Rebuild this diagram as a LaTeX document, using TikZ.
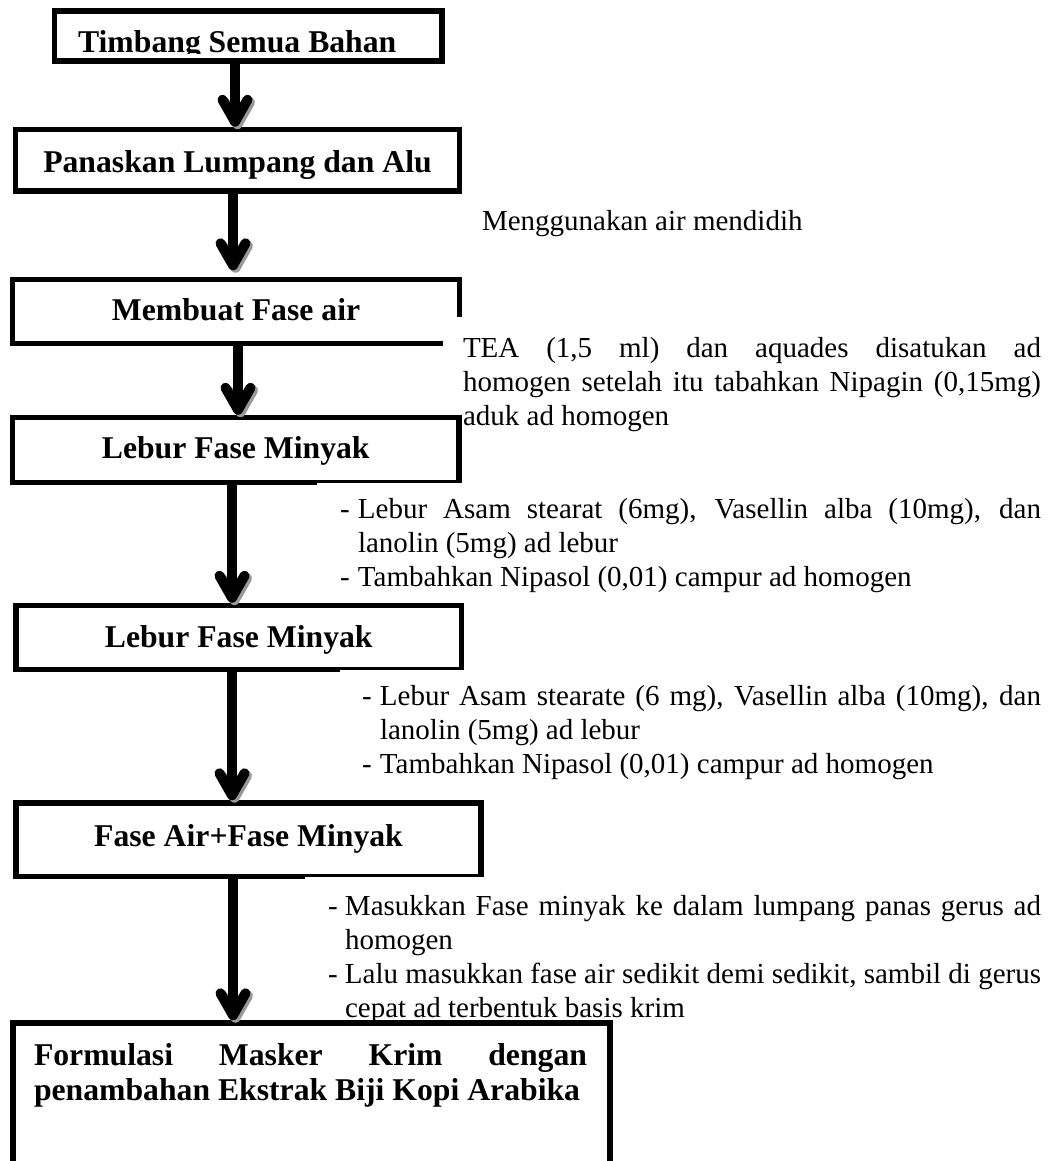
\documentclass[tikz,border=0pt]{standalone}
\usepackage{fontspec}
\setmainfont{Liberation Serif}
\usetikzlibrary{calc}

\tikzset{
  boxnode/.style={draw, line width=5.5pt, inner xsep=0pt, inner ysep=0pt, outer sep=0pt,
    minimum height=0pt, font=\fontsize{31.7}{36}\selectfont\bfseries},
  flowline/.style={line width=10pt},
  chev/.style={line width=10pt, line cap=round, line join=round},
  chevshadow/.style={chev, draw=black!40},
  notetext/.style={inner sep=0pt, outer sep=0pt, align=left, font=\fontsize{29}{34.2}\selectfont},
  boldtext/.style={inner sep=0pt, outer sep=0pt, align=left, font=\fontsize{31.7}{35}\selectfont\bfseries},
  cover/.style={fill=white, draw=none}
}

% #1 from node, #2 to node, #3 x position, #4 extra gap above target
\newcommand\flowarrow[4]{%
  \coordinate (ax) at (#3,0);
  \coordinate (tp) at ($(#2.north -| ax)+(0,{-7.75-#4})$);
  \draw[chevshadow] ($(tp)+(-10,-19.5)$) -- ($(tp)+(2.5,2.5)$) -- ($(tp)+(15,-19.5)$);
  \draw[flowline] (#1.south -| ax) -- (tp);
  \draw[chev] ($(tp)+(-12.5,-22)$) -- (tp) -- ($(tp)+(12.5,-22)$);
}

\begin{document}
\begin{tikzpicture}[x=1pt,y=-1pt]
\useasboundingbox (0,0) rectangle (1064,1161);
\begin{scope}
\clip (0,0) rectangle (1064,1161);
\fill[white] (0,0) rectangle (1064,1161);

% ---- boxes ----
\node[boxnode, minimum width=387.5pt, text height=42pt, text depth=8pt] (b1) at (248.25,36)
  {Timbang Semua Bahan\hspace*{22pt}};
\node[boxnode, minimum width=444pt, text height=43.5pt, text depth=18pt] (b2) at (237.5,160.25)
  {Panaskan Lumpang dan Alu};
\node[boxnode, minimum width=447pt, text height=40.5pt, text depth=23.5pt] (b3) at (236,311.5)
  {Membuat Fase air};
\node[boxnode, minimum width=446.5pt, text height=40.5pt, text depth=24.5pt] (b4) at (235.75,450)
  {Lebur Fase Minyak};
\node[boxnode, minimum width=445.5pt, text height=41.5pt, text depth=22.5pt] (b5) at (238.75,637.5)
  {Lebur Fase Minyak};
\node[boxnode, minimum width=465pt, text height=43pt, text depth=30.5pt] (b6) at (248.5,839.75)
  {Fase Air+Fase Minyak};
\node[boxnode, minimum width=597pt, minimum height=200pt, anchor=north] (b7) at (311.5,1023) {};

\node[boldtext, anchor=north west] (t7) at (34,1035)
  {\rule{0pt}{30pt}\makebox[553pt][s]{Formulasi Masker Krim dengan}\\
   penambahan Ekstrak Biji Kopi Arabika};

% ---- parts of box edges hidden by the text frames ----
\fill[cover] (57.5,53.8) rectangle (439,58.2);
\fill[cover] (443,317) rectangle (462.5,347);
\fill[cover] (317,482.6) rectangle (462.5,486);
\fill[cover] (340,669.6) rectangle (465,673);
\fill[cover] (305,876.6) rectangle (485,880);

% ---- side notes ----
\node[notetext, anchor=base west] (n1) at (482,230) {Menggunakan air mendidih};

\node[notetext, anchor=north west] (n2) at (463,332)
  {\rule{0pt}{25pt}\makebox[578pt][s]{TEA (1,5 ml) dan aquades disatukan ad}\\
   \makebox[578pt][s]{homogen setelah itu tabahkan Nipagin (0,15mg)}\\
   aduk ad homogen};

\node[notetext, anchor=north west] (n3) at (340,493)
  {\rule{0pt}{25pt}\makebox[18pt][l]{-}\makebox[683pt][s]{Lebur Asam stearat (6mg), Vasellin alba (10mg), dan}\\
   \hspace*{18pt}lanolin (5mg) ad lebur\\
   \makebox[18pt][l]{-}Tambahkan Nipasol (0,01) campur ad homogen};

\node[notetext, anchor=north west] (n4) at (362,680)
  {\rule{0pt}{25pt}\makebox[18pt][l]{-}\makebox[661pt][s]{Lebur Asam stearate (6 mg), Vasellin alba (10mg), dan}\\
   \hspace*{18pt}lanolin (5mg) ad lebur\\
   \makebox[18pt][l]{-}Tambahkan Nipasol (0,01) campur ad homogen};

\node[notetext, anchor=north west] (n5) at (328,890)
  {\rule{0pt}{25pt}\makebox[17pt][l]{-}\makebox[696pt][s]{Masukkan Fase minyak ke dalam lumpang panas gerus ad}\\
   \hspace*{17pt}homogen\\
   \makebox[17pt][l]{-}\makebox[696pt][s]{Lalu masukkan fase air sedikit demi sedikit, sambil di gerus}\\
   \hspace*{17pt}cepat ad terbentuk basis krim};

% ---- connectors ----
\flowarrow{b1}{b2}{235}{0}
\flowarrow{b2}{b3}{233}{6.5}
\flowarrow{b3}{b4}{238}{0}
\flowarrow{b4}{b5}{232}{0}
\flowarrow{b5}{b6}{232}{0}
\flowarrow{b6}{b7}{233}{0}
\end{scope}
\end{tikzpicture}
\end{document}
